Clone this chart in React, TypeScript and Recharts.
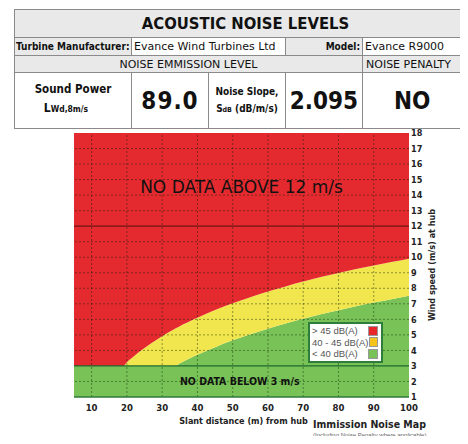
import React from 'react';
import {
  ComposedChart,
  Area,
  XAxis,
  YAxis,
  ReferenceLine,
  ReferenceArea,
  Legend,
} from 'recharts';

// slant distance (m) sampled along the curves
const distances = [5, 10, 15, 19, 20, 21, 22, 24, 26, 28, 30, 32, 34, 35, 36, 38, 40, 45, 50, 55, 60, 65, 70, 75, 80, 85, 90, 95, 100];
// wind speed where level crosses 45 dB(A) (red / yellow edge)
const edge45 = [3, 3, 3, 3.0, 3.24, 3.44, 3.63, 3.99, 4.32, 4.63, 4.92, 5.18, 5.44, 5.56, 5.68, 5.9, 6.11, 6.6, 7.04, 7.43, 7.79, 8.12, 8.43, 8.72, 8.98, 9.24, 9.47, 9.69, 9.91];
// wind speed where level crosses 40 dB(A) (yellow / green edge)
const edge40 = [3, 3, 3, 3, 3, 3, 3, 3, 3, 3, 3, 3, 3.0, 3.17, 3.29, 3.51, 3.72, 4.21, 4.65, 5.04, 5.4, 5.73, 6.04, 6.33, 6.59, 6.85, 7.08, 7.3, 7.52];

const xTicks = [10, 20, 30, 40, 50, 60, 70, 80, 90, 100];
const yTicks = [1, 2, 3, 4, 5, 6, 7, 8, 9, 10, 11, 12, 13, 14, 15, 16, 17, 18];
const gridX = [10, 20, 30, 40, 50, 60, 70, 80, 90];
const gridY = [2, 4, 5, 6, 7, 8, 9, 10, 11, 13, 14, 15, 16, 17];

const legendItems = [
  { label: '> 45 dB(A)', color: '#e8262c' },
  { label: '40 - 45 dB(A)', color: '#f6c51c' },
  { label: '< 40 dB(A)', color: '#79c257' },
];

const data = distances.map((d, i) => ({
  d,
  green: [1, edge40[i]],
  yellow: [edge40[i], edge45[i]],
  red: [edge45[i], 18],
}));

const cond = '"DejaVu Sans Condensed", "DejaVu Sans", sans-serif';
const wide = '"DejaVu Sans", sans-serif';
const gray = '#e9e9e9';
const border = '1px solid #8a8a8a';

const cell = (extra: React.CSSProperties = {}): React.CSSProperties => ({
  border,
  padding: 0,
  verticalAlign: 'middle',
  ...extra,
});

function LegendBox() {
  return (
    <div
      style={{
        width: 75,
        border: '2px solid #2e7d3a',
        background: '#fff',
        padding: '1px 3px 1px 2px',
        fontFamily: '"Liberation Sans", Arial, sans-serif',
        fontSize: 9.5,
        color: '#555',
        boxSizing: 'border-box',
        whiteSpace: 'nowrap',
      }}
    >
      {legendItems.map((it) => (
        <div key={it.label} style={{ display: 'flex', justifyContent: 'space-between', alignItems: 'center', height: 11.5 }}>
          <span>{it.label}</span>
          <span style={{ width: 8, height: 8, background: it.color, border: '1px solid #999' }} />
        </div>
      ))}
    </div>
  );
}

export default function App() {
  return (
    <div style={{ position: 'relative', width: 468, height: 444, margin: -8, overflow: 'hidden', background: '#fff', fontFamily: cond, color: '#111' }}>
      <table
        style={{
          position: 'absolute',
          left: 14,
          top: 9,
          borderCollapse: 'collapse',
          tableLayout: 'fixed',
          width: 462,
          textAlign: 'center',
        }}
      >
        <colgroup>
          <col style={{ width: 117 }} />
          <col style={{ width: 77 }} />
          <col style={{ width: 77 }} />
          <col style={{ width: 77 }} />
          <col style={{ width: 114 }} />
        </colgroup>
        <tbody>
          <tr style={{ height: 28 }}>
            <td colSpan={5} style={cell({ background: gray, fontSize: 16.5, fontWeight: 'bold' })}>ACOUSTIC NOISE LEVELS</td>
          </tr>
          <tr style={{ height: 18, fontSize: 10 }}>
            <td style={cell({ background: gray, fontWeight: 'bold', textAlign: 'left', paddingLeft: 1, whiteSpace: 'nowrap' })}>Turbine Manufacturer:</td>
            <td colSpan={2} style={cell({ textAlign: 'left', paddingLeft: 2, fontFamily: wide, fontSize: 11 })}>Evance Wind Turbines Ltd</td>
            <td style={cell({ background: gray, fontWeight: 'bold', textAlign: 'right', paddingRight: 2 })}>Model:</td>
            <td style={cell({ textAlign: 'left', paddingLeft: 2, fontFamily: wide, fontSize: 11 })}>Evance R9000</td>
          </tr>
          <tr style={{ height: 17, fontSize: 11, fontFamily: wide }}>
            <td colSpan={4} style={cell({ background: gray })}>NOISE EMMISSION LEVEL</td>
            <td style={cell({ background: gray, textAlign: 'left', paddingLeft: 3 })}>NOISE PENALTY</td>
          </tr>
          <tr style={{ height: 56 }}>
            <td style={cell({ fontWeight: 'bold', fontSize: 11.5, lineHeight: '19px' })}>
              <div style={{ marginTop: -2 }}>Sound Power</div>
              <div style={{ fontSize: 12, paddingRight: 14 }}>
                L<sub style={{ fontSize: 8.5, verticalAlign: 'baseline' }}>Wd,8m/s</sub>
              </div>
            </td>
            <td style={cell({ fontWeight: 'bold', fontSize: 24, letterSpacing: 1 })}>89.0</td>
            <td style={cell({ fontWeight: 'bold', fontSize: 10, lineHeight: '17px' })}>
              Noise Slope,
              <br />
              S<sub style={{ fontSize: 7, verticalAlign: 'baseline' }}>dB</sub> (dB/m/s)
            </td>
            <td style={cell({ fontWeight: 'bold', fontSize: 24 })}>2.095</td>
            <td style={cell({ fontWeight: 'bold', fontSize: 24, textAlign: 'left', paddingLeft: 31 })}>NO</td>
          </tr>
        </tbody>
      </table>

      <div style={{ position: 'absolute', left: 0, top: 128 }}>
        <ComposedChart width={468} height={316} data={data} margin={{ top: 5, right: 19, bottom: 21, left: 74 }}>
          <XAxis
            dataKey="d"
            type="number"
            domain={[5, 100]}
            ticks={xTicks}
            allowDataOverflow
            height={26}
            tickLine={false}
            tickSize={5}
            axisLine={{ stroke: '#2f7a3a', strokeWidth: 1.5 }}
            tick={{ fontSize: 9.5, fontWeight: 'bold', fill: '#222', fontFamily: cond }}
            label={{ value: 'Slant distance (m) from hub', position: 'insideBottom', offset: -1, dx: 2, fontSize: 9, fontWeight: 'bold', fill: '#222', fontFamily: cond }}
          />
          <YAxis
            orientation="right"
            type="number"
            domain={[1, 18]}
            ticks={yTicks}
            interval={0}
            allowDataOverflow
            width={40}
            tickLine={false}
            tickSize={0}
            axisLine={false}
            tick={{ fontSize: 9, fontWeight: 'bold', fill: '#222', fontFamily: cond }}
            label={{ value: 'Wind speed (m/s) at hub', angle: -90, position: 'center', dx: 3, fontSize: 9, fontWeight: 'bold', fill: '#222', fontFamily: cond }}
          />
          <Area dataKey="green" type="monotone" stroke="none" fill="#79c257" fillOpacity={1} isAnimationActive={false} />
          <Area dataKey="yellow" type="monotone" stroke="none" fill="#f2e64e" fillOpacity={1} isAnimationActive={false} />
          <Area dataKey="red" type="monotone" stroke="none" fill="#e42a2f" fillOpacity={1} isAnimationActive={false} />
          {gridX.map((v) => (
            <ReferenceLine key={'gx' + v} x={v} stroke="rgba(0,30,0,0.42)" strokeDasharray="2 2" />
          ))}
          {gridY.map((v) => (
            <ReferenceLine key={'gy' + v} y={v} stroke="rgba(0,30,0,0.42)" strokeDasharray="2 2" />
          ))}
          <ReferenceLine y={12} stroke="#6e1616" strokeWidth={1.3} />
          <ReferenceLine y={3} stroke="#1e6a2e" strokeWidth={1.3} />
          <ReferenceArea
            x1={5}
            x2={100}
            y1={12}
            y2={17}
            fill="none"
            stroke="none"
            label={{ value: 'NO DATA ABOVE 12 m/s', position: 'center', fontSize: 17, fill: '#111', fontFamily: wide }}
          />
          <ReferenceArea
            x1={5}
            x2={99}
            y1={1}
            y2={3}
            fill="none"
            stroke="none"
            label={{ value: 'NO DATA BELOW 3 m/s', position: 'center', fontSize: 10.5, fontWeight: 'bold', fill: '#111', fontFamily: cond }}
          />
          <Legend
            layout="vertical"
            align="center"
            verticalAlign="middle"
            content={() => <LegendBox />}
            wrapperStyle={{ position: 'absolute', left: 308, top: 194, width: 75 }}
          />
        </ComposedChart>
      </div>

      <div style={{ position: 'absolute', left: 313, top: 418, fontSize: 10.5, fontWeight: 'bold', color: '#222', whiteSpace: 'nowrap' }}>
        Immission Noise Map
      </div>
      <div style={{ position: 'absolute', left: 313, top: 432, fontSize: 6, color: '#666', fontFamily: '"Liberation Sans", Arial, sans-serif', whiteSpace: 'nowrap' }}>
        (Including Noise Penalty where applicable)
      </div>
    </div>
  );
}
